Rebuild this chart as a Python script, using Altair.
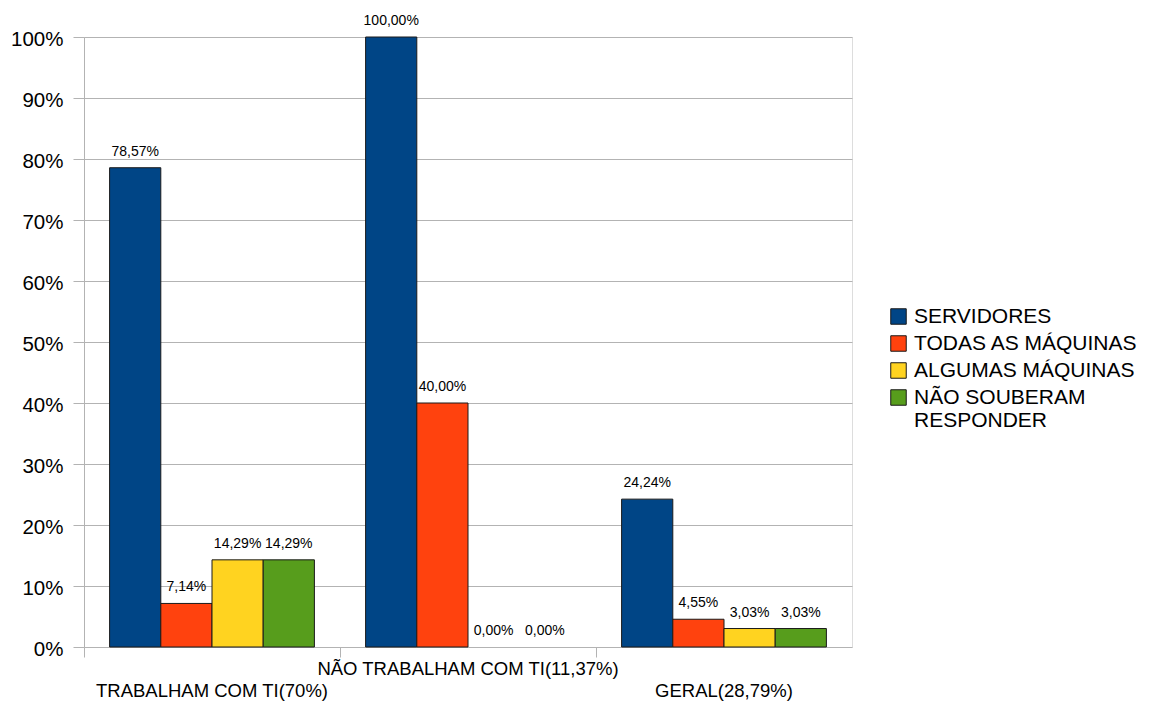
import altair as alt
import pandas as pd

# Survey groups and response categories
groups = ["TRABALHAM COM TI(70%)", "NÃO TRABALHAM COM TI(11,37%)", "GERAL(28,79%)"]
series = ["SERVIDORES", "TODAS AS MÁQUINAS", "ALGUMAS MÁQUINAS", "NÃO SOUBERAM RESPONDER"]
colors = ["#004586", "#ff420e", "#ffd320", "#579d1c"]

# Percentages per group, one list per series
servidores = [78.57, 100.00, 24.24]
todas = [7.14, 40.00, 4.55]
algumas = [14.29, 0.00, 3.03]
nao_souberam = [14.29, 0.00, 3.03]

y_ticks = [0, 10, 20, 30, 40, 50, 60, 70, 80, 90, 100]

rows = []
for s, vals in zip(series, [servidores, todas, algumas, nao_souberam]):
    for g, v in zip(groups, vals):
        rows.append({"grupo": g, "serie": s, "valor": v,
                     "rotulo": f"{v:.2f}".replace(".", ",") + "%"})
df = pd.DataFrame(rows)

FONT = "Liberation Sans"

# Ticks sit on the group boundaries; the middle label is raised one line
x_enc = alt.X(
    "grupo:N", sort=groups, title=None,
    scale=alt.Scale(paddingInner=0, paddingOuter=0),
    axis=alt.Axis(
        bandPosition=0, labelAngle=0,
        tickSize=10, tickColor="#b3b3b3", domain=False, grid=False,
        labelFont=FONT, labelFontSize=18.5, labelColor="#000000",
        labelPadding=2, labelLineHeight=22, labelLimit=400,
        labelExpr="datum.label == 'NÃO TRABALHAM COM TI(11,37%)' ? datum.label : ['', datum.label]",
    ),
)
xoff = alt.XOffset("serie:N", sort=series,
                   scale=alt.Scale(paddingInner=0, paddingOuter=0.5))
y_enc = alt.Y(
    "valor:Q", title=None,
    scale=alt.Scale(domain=[0, 100], nice=False),
    axis=alt.Axis(
        values=y_ticks, labelExpr="datum.value + '%'",
        tickSize=11, tickColor="#b3b3b3", gridColor="#b3b3b3",
        domainColor="#b3b3b3", labelFont=FONT, labelFontSize=20.5,
        labelColor="#000000", labelPadding=10, labelOffset=2,
    ),
)

bars = alt.Chart(df).mark_bar(stroke="#1a1a1a", strokeWidth=1).encode(
    x=x_enc, xOffset=xoff, y=y_enc,
    # zero-height bars get no outline
    strokeOpacity=alt.condition(alt.datum.valor > 0, alt.value(1), alt.value(0)),
    color=alt.Color(
        "serie:N", sort=series, title=None,
        scale=alt.Scale(domain=series, range=colors),
        legend=alt.Legend(
            orient="none", legendX=804, legendY=269,
            symbolType="square", symbolSize=240, symbolStrokeColor="#1a1a1a",
            symbolStrokeWidth=1, labelFont=FONT, labelFontSize=21,
            labelColor="#000000", rowPadding=5, labelOffset=5,
            labelLimit=300,
            labelExpr="datum.label == 'NÃO SOUBERAM RESPONDER' ? ['NÃO SOUBERAM', 'RESPONDER'] : datum.label",
        ),
    ),
)

labels = alt.Chart(df).mark_text(
    baseline="alphabetic", dy=-12, font=FONT, fontSize=14, color="#000000"
).encode(x=x_enc, xOffset=xoff, y=y_enc, text="rotulo:N")

chart = (bars + labels).properties(
    width=768, height=610,
    padding={"left": 84, "top": 37, "right": 305, "bottom": 60},
    autosize=alt.AutoSizeParams(type="none"),
).configure_view(stroke="#b3b3b3").configure(background="#ffffff")

chart.save("out.html", embed_options={"renderer": "svg", "actions": False})
